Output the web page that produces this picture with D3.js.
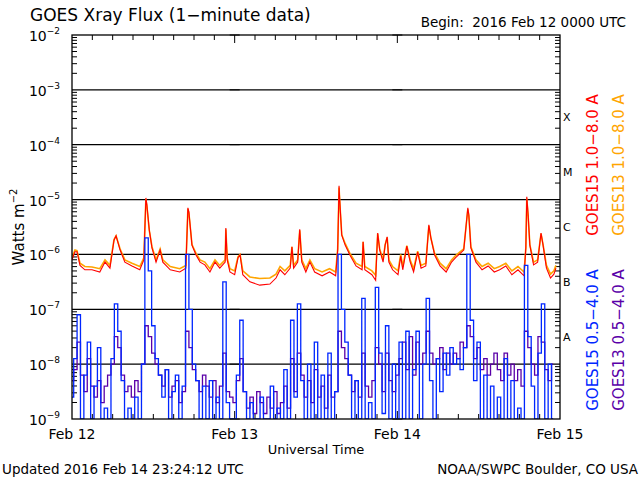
<!DOCTYPE html>
<html>
<head>
<meta charset="utf-8">
<script src="https://cdn.jsdelivr.net/npm/d3@7"></script>
<style>
  body { margin: 0; background: #fff; }
  text { font-family: "DejaVu Sans", sans-serif; }
</style>
</head>
<body>
<svg id="chart" width="640" height="480"></svg>
<script>
// hours since 2016 Feb 12 00:00 UTC, log10(W/m^2)
const dayLabels = ['Feb 12', 'Feb 13', 'Feb 14', 'Feb 15']
const decades = [-9, -8, -7, -6, -5, -4, -3, -2]
const classes = [['X', -3.5], ['M', -4.5], ['C', -5.5], ['B', -6.5], ['A', -7.5]]

const goes15Long = [
  [0, -6.1], [0.44, -5.95], [0.74, -5.95], [1.18, -6.2], [1.9, -6.28], [2.95, -6.28], [4.1, -6.32], [4.87, -6.14],
  [5.6, -6.25], [6.2, -5.74], [6.5, -5.66], [7.1, -5.92], [7.8, -6.14], [8.85, -6.21], [10, -6.28], [10.6, -6.1],
  [10.9, -4.97], [11.05, -5.1], [11.4, -5.55], [11.8, -5.88], [12.4, -6.14], [13, -5.92], [13.4, -6.14], [14.5, -6.28],
  [15.9, -6.32], [16.8, -6.25], [17.1, -5.15], [17.25, -5.23], [17.7, -5.83], [18.3, -6.01], [18.9, -6.14], [19.6, -6.19],
  [20.35, -6.32], [21.1, -6.14], [21.8, -6.25], [22.6, -6.14], [22.7, -5.52], [22.9, -6.1], [23.3, -6.32], [24, -6.37],
  [24.5, -6.06], [24.8, -6.01], [25.2, -6.37], [26.25, -6.5], [27.7, -6.56], [29.2, -6.54], [30.1, -6.43], [30.7, -6.28],
  [31.4, -6.37], [32.2, -6.25], [32.45, -5.86], [32.7, -6.25], [33.3, -6.14], [33.6, -5.54], [33.9, -6.14], [34.5, -6.32],
  [35.1, -6.14], [35.8, -6.32], [36.9, -6.39], [38, -6.32], [38.9, -6.39], [39.2, -5.92], [39.4, -4.75], [39.5, -5.01],
  [39.8, -5.65], [40.3, -5.83], [41, -6.01], [41.9, -6.21], [42.8, -6.28], [42.95, -5.77], [43.2, -6.28], [44.25, -6.37],
  [44.8, -6.47], [45.1, -5.61], [45.4, -5.92], [45.9, -6.14], [46.2, -5.83], [46.5, -5.68], [46.75, -6.14], [47.3, -6.28],
  [48.1, -6.37], [48.5, -6.03], [48.8, -6.28], [49.4, -5.85], [49.9, -6.14], [50.4, -6.32], [51, -5.96], [51.5, -6.25],
  [52.2, -6.21], [52.65, -5.46], [52.95, -5.7], [53.5, -6.01], [54.3, -6.21], [55.2, -6.32], [56, -6.14], [56.6, -6.06],
  [57.2, -5.99], [57.8, -5.92], [58.4, -5.15], [58.55, -5.28], [58.85, -5.88], [59.6, -6.14], [60.5, -6.28], [61.4, -6.21],
  [62.3, -6.32], [63.1, -6.28], [64, -6.21], [64.9, -6.37], [65.8, -6.28], [66.7, -6.39], [66.96, -5.88], [67.1, -4.95],
  [67.3, -5.28], [67.55, -5.83], [68.1, -6.19], [68.7, -6.14], [69.2, -5.61], [69.5, -5.83], [70, -6.25], [70.6, -6.43],
  [71.1, -6.36], [71.4, -6.25]
]

const goes13Long = [
  [0, -6.06], [0.44, -5.92], [0.74, -5.93], [1.18, -6.16], [1.9, -6.22], [2.95, -6.23], [4.1, -6.26], [4.87, -6.1],
  [5.6, -6.2], [6.2, -5.73], [6.5, -5.66], [7.1, -5.9], [7.8, -6.1], [8.85, -6.16], [10, -6.22], [10.6, -6.06],
  [10.9, -4.99], [11.05, -5.12], [11.4, -5.56], [11.8, -5.86], [12.4, -6.1], [13, -5.9], [13.4, -6.1], [14.5, -6.22],
  [15.9, -6.26], [16.8, -6.2], [17.1, -5.17], [17.25, -5.25], [17.7, -5.82], [18.3, -5.98], [18.9, -6.1], [19.6, -6.14],
  [20.35, -6.26], [21.1, -6.1], [21.8, -6.2], [22.6, -6.1], [22.7, -5.54], [22.9, -6.07], [23.3, -6.26], [24, -6.3],
  [24.5, -6.04], [24.8, -6.0], [25.2, -6.3], [26.25, -6.41], [27.7, -6.44], [29.2, -6.43], [30.1, -6.36], [30.7, -6.22],
  [31.4, -6.3], [32.2, -6.2], [32.45, -5.86], [32.7, -6.2], [33.3, -6.1], [33.6, -5.56], [33.9, -6.1], [34.5, -6.26],
  [35.1, -6.1], [35.8, -6.26], [36.9, -6.32], [38, -6.26], [38.9, -6.32], [39.2, -5.9], [39.4, -4.78], [39.5, -5.03],
  [39.8, -5.64], [40.3, -5.8], [41, -5.98], [41.9, -6.16], [42.8, -6.22], [42.95, -5.77], [43.2, -6.22], [44.25, -6.3],
  [44.8, -6.38], [45.1, -5.62], [45.4, -5.9], [45.9, -6.1], [46.2, -5.82], [46.5, -5.69], [46.75, -6.1], [47.3, -6.22],
  [48.1, -6.3], [48.5, -6.0], [48.8, -6.22], [49.4, -5.84], [49.9, -6.1], [50.4, -6.26], [51, -5.94], [51.5, -6.2],
  [52.2, -6.16], [52.65, -5.48], [52.95, -5.7], [53.5, -5.98], [54.3, -6.16], [55.2, -6.26], [56, -6.1], [56.6, -6.02],
  [57.2, -5.96], [57.8, -5.9], [58.4, -5.18], [58.55, -5.3], [58.85, -5.86], [59.6, -6.1], [60.5, -6.22], [61.4, -6.16],
  [62.3, -6.26], [63.1, -6.22], [64, -6.16], [64.9, -6.3], [65.8, -6.22], [66.7, -6.32], [66.96, -5.88], [67.1, -4.98],
  [67.3, -5.3], [67.55, -5.82], [68.1, -6.14], [68.7, -6.1], [69.2, -5.62], [69.5, -5.82], [70, -6.2], [70.6, -6.36],
  [71.1, -6.3], [71.4, -6.2]
]

// short channel, one value every half hour
const goes15Short = [
  -8.6, -7.9, -7.1, -9, -8.2, -7.6, -9, -8.4, -7.7, -9, -8.8, -9, -7.9, -6.9, -7.4, -8.3, -9, -8.8, -9, -8.6,
  -9, -8.0, -5.7, -6.3, -7.3, -7.9, -8.2, -8.6, -8.1, -9, -8.5, -8.2, -9, -8.4, -6.0, -7.0, -8.0, -8.3, -9, -8.4,
  -9, -8.3, -9, -8.6, -9, -6.5, -8.7, -9, -9, -8.2, -7.2, -8.5, -9, -8.7, -9, -9, -8.6, -9, -9, -8.4,
  -9, -8.8, -9, -8.1, -9, -7.2, -8.6, -6.9, -8.3, -9, -8.0, -9, -7.6, -9, -8.2, -9, -7.8, -9, -8.5, -6.0,
  -7.0, -7.6, -8.2, -9, -8.3, -9, -6.8, -9, -8.7, -9, -6.6, -7.8, -8.9, -7.3, -9, -8.0, -9, -7.6, -9, -7.4,
  -9, -8.1, -7.4, -9, -8.0, -6.8, -8.3, -9, -7.9, -8.5, -7.8, -8.2, -7.7, -8.0, -7.9, -8.1, -7.7, -6.0, -7.2, -8.3,
  -7.6, -9, -8.2, -9, -8.4, -9, -8.6, -9, -7.9, -9, -8.3, -9, -8.8, -9, -6.2, -7.5, -8.4, -9, -7.8, -6.9,
  -9, -8.0, -9
]

const goes13Short = [
  -8.3, -8.1, -7.6, -8.2, -8.5, -7.9, -8.4, -8.6, -8.3, -8.7, -8.4, -8.2, -8.0, -7.5, -7.7, -8.2, -8.5, -8.4, -8.6, -8.3,
  -8.5, -8.0, -7.3, -7.5, -7.8, -8.0, -8.2, -8.4, -8.1, -8.6, -8.4, -8.3, -8.7, -8.5, -7.4, -7.7, -8.1, -8.3, -8.5, -8.2,
  -8.4, -8.6, -8.3, -8.7, -8.4, -7.8, -8.5, -8.6,
  -8.7, -8.3, -7.9, -8.5, -8.8, -8.6, -8.9, -8.5, -8.7, -8.9, -8.6, -8.8, -8.5, -8.9, -8.7, -8.4, -8.8, -7.9, -8.5, -7.8,
  -8.2, -8.6, -8.3, -8.7, -8.1, -8.6, -8.4, -8.8, -8.2, -8.6, -8.5, -7.4, -7.7, -7.9, -8.2, -8.5, -8.3, -8.6, -7.8, -8.4,
  -8.6, -8.3, -7.7, -8.0, -8.5, -7.8, -8.3, -8.5,
  -8.2, -7.9, -7.6, -8.1, -7.5, -8.2, -7.6, -8.0, -7.8, -7.4, -7.8, -8.0, -7.9, -7.7, -8.1, -7.8, -8.0, -7.8, -7.9, -7.6,
  -7.7, -7.3, -7.5, -7.9, -7.7, -8.1, -7.9, -8.2, -8.0, -7.8, -8.1, -8.3, -7.8, -8.2, -8.0, -8.3, -8.1, -8.4, -7.4, -7.7,
  -8.0, -8.2, -7.5, -7.6, -8.1, -8.3, -8.0
]

const box = { left: 72, right: 560, top: 35, bottom: 419 }
const svg = d3.select('#chart')

const x = d3.scaleLinear().domain([0, 72]).range([box.left, box.right])
const y = d3.scaleLog().domain([1e-9, 1e-2]).range([box.bottom, box.top])

const defs = svg.append('defs')
defs.append('clipPath').attr('id', 'plot')
  .append('rect').attr('x', box.left).attr('y', box.top)
  .attr('width', box.right - box.left).attr('height', box.bottom - box.top)

// horizontal decade lines
svg.append('g').selectAll('line')
  .data(decades.slice(1, -1))
  .join('line')
  .attr('x1', box.left).attr('x2', box.right)
  .attr('y1', d => y(Math.pow(10, d))).attr('y2', d => y(Math.pow(10, d)))
  .attr('stroke', '#000').attr('stroke-width', 1.3)

// minor log ticks at left, day boundaries and right
const minor = []
decades.slice(0, -1).forEach(e => {
  for (let k = 2; k <= 9; k++) minor.push(k * Math.pow(10, e))
})
const tickCols = [[box.left, 1], [x(24), 0], [x(48), 0], [box.right, -1]]
tickCols.forEach(([cx, dir]) => {
  const g = svg.append('g')
  g.selectAll('line.mn')
    .data(minor)
    .join('line')
    .attr('x1', dir >= 0 ? cx : cx - 5)
    .attr('x2', dir <= 0 ? cx : cx + 5)
    .attr('y1', d => y(d)).attr('y2', d => y(d))
    .attr('stroke', '#000')
  if (dir === 0) {
    g.selectAll('line.maj')
      .data(decades)
      .join('line')
      .attr('x1', cx - 5).attr('x2', cx + 5)
      .attr('y1', d => y(Math.pow(10, d))).attr('y2', d => y(Math.pow(10, d)))
      .attr('stroke', '#000')
  }
})

// 3 hour ticks top & bottom
const hourTicks = d3.range(3, 72, 3)
svg.append('g').selectAll('line')
  .data(hourTicks)
  .join('line')
  .attr('x1', d => x(d)).attr('x2', d => x(d))
  .attr('y1', box.top).attr('y2', d => box.top + (d % 24 === 0 ? 8 : 5))
  .attr('stroke', '#000')
svg.append('g').selectAll('line')
  .data(hourTicks)
  .join('line')
  .attr('x1', d => x(d)).attr('x2', d => x(d))
  .attr('y1', box.bottom).attr('y2', d => box.bottom - (d % 24 === 0 ? 8 : 5))
  .attr('stroke', '#000')

// data
const longLine = d3.line()
  .x(d => x(d[0]))
  .y(d => y(Math.pow(10, d[1])))
const shortLine = d3.line()
  .curve(d3.curveStep)
  .x((d, i) => x(i * 0.5))
  .y(d => y(Math.pow(10, d)))

const plot = svg.append('g').attr('clip-path', 'url(#plot)')
plot.append('path').datum(goes13Long).attr('d', longLine)
  .attr('fill', 'none').attr('stroke', '#ffa500').attr('stroke-width', 1.6)
plot.append('path').datum(goes15Long).attr('d', longLine)
  .attr('fill', 'none').attr('stroke', '#ff0000').attr('stroke-width', 1.1)
plot.append('path').datum(goes13Short).attr('d', shortLine)
  .attr('fill', 'none').attr('stroke', '#5a00a8').attr('stroke-width', 1.3)
plot.append('path').datum(goes15Short).attr('d', shortLine)
  .attr('fill', 'none').attr('stroke', '#0026ff').attr('stroke-width', 1.3)

// frame
svg.append('rect')
  .attr('x', box.left).attr('y', box.top)
  .attr('width', box.right - box.left).attr('height', box.bottom - box.top)
  .attr('fill', 'none').attr('stroke', '#000').attr('stroke-width', 1.3)

// y labels
const yl = svg.append('g').selectAll('text')
  .data(decades)
  .join('text')
  .attr('x', 60).attr('y', d => y(Math.pow(10, d)) + 6)
  .attr('text-anchor', 'end').attr('font-size', 14)
yl.append('tspan').text('10')
yl.append('tspan').attr('dy', -7).attr('font-size', 9).text(d => '\u2212' + (-d))

svg.append('text')
  .attr('transform', 'translate(24,227) rotate(-90)')
  .attr('text-anchor', 'middle').attr('font-size', 15)
  .call(t => {
    t.append('tspan').text('Watts m')
    t.append('tspan').attr('dy', -7).attr('font-size', 10).text('\u22122')
  })

// x labels
svg.append('g').selectAll('text')
  .data(dayLabels)
  .join('text')
  .attr('x', (d, i) => x(i * 24)).attr('y', 439)
  .attr('text-anchor', 'middle').attr('font-size', 14)
  .text(d => d)
svg.append('text').attr('x', 316).attr('y', 454).attr('text-anchor', 'middle')
  .attr('font-size', 13).text('Universal Time')

// class letters
svg.append('g').selectAll('text')
  .data(classes)
  .join('text')
  .attr('x', 563).attr('y', d => y(Math.pow(10, d[1])) + 4)
  .attr('font-family', '"Liberation Serif", serif').attr('font-size', 11)
  .text(d => d[0])

// titles
svg.append('text').attr('x', 30).attr('y', 21).attr('font-size', 17)
  .text('GOES Xray Flux (1\u2212minute data)')
svg.append('text').attr('x', 626).attr('y', 27).attr('text-anchor', 'end').attr('font-size', 13.5)
  .attr('xml:space', 'preserve').text('Begin:  2016 Feb 12 0000 UTC')
svg.append('text').attr('x', 2).attr('y', 474).attr('font-size', 13.5)
  .text('Updated 2016 Feb 14 23:24:12 UTC')
svg.append('text').attr('x', 638).attr('y', 474).attr('text-anchor', 'end').attr('font-size', 13.5)
  .text('NOAA/SWPC Boulder, CO USA')

// legends
const legends = [
  ['GOES15 1.0\u22128.0 A', '#ff0000', 598, 165],
  ['GOES13 1.0\u22128.0 A', '#ffa500', 624, 165],
  ['GOES15 0.5\u22124.0 A', '#0026ff', 598, 340],
  ['GOES13 0.5\u22124.0 A', '#5a00a8', 624, 340]
]
svg.append('g').selectAll('text')
  .data(legends)
  .join('text')
  .attr('transform', d => `translate(${d[2]},${d[3]}) rotate(-90)`)
  .attr('text-anchor', 'middle').attr('font-size', 15)
  .attr('fill', d => d[1])
  .text(d => d[0])
</script>
</body>
</html>
